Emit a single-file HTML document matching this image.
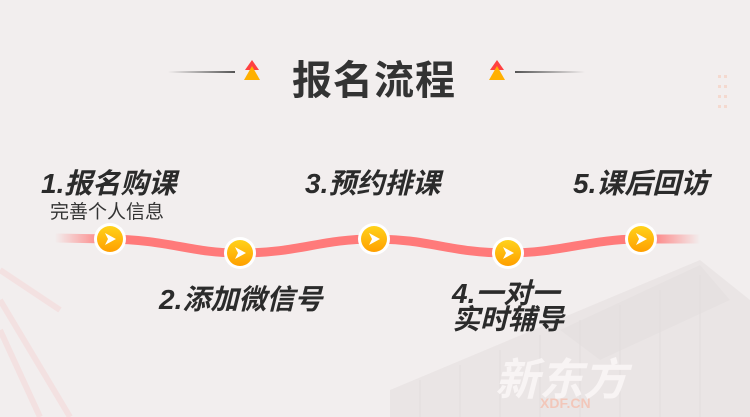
<!DOCTYPE html>
<html><head><meta charset="utf-8"><style>
body{margin:0;width:750px;height:417px;overflow:hidden;background:#f2eeee;position:relative;font-family:"Liberation Sans","Noto Sans CJK SC",sans-serif}
.t{position:absolute;font-weight:bold;font-style:italic;color:#2b2b2b;white-space:nowrap;letter-spacing:0px}
</style></head><body>
<svg width="750" height="417" style="position:absolute;left:0;top:0">
<defs>
<linearGradient id="lg" x1="55" x2="700" gradientUnits="userSpaceOnUse">
<stop offset="0" stop-color="#ff7a7a" stop-opacity="0"/>
<stop offset="0.08" stop-color="#ff7a7a"/>
<stop offset="0.92" stop-color="#ff7a7a"/>
<stop offset="1" stop-color="#ff7a7a" stop-opacity="0"/>
</linearGradient>
<linearGradient id="cg" x1="0" y1="0" x2="0" y2="1">
<stop offset="0" stop-color="#ffd21a"/><stop offset="1" stop-color="#ff9f00"/>
</linearGradient>
<linearGradient id="l1" x1="0" x2="1"><stop offset="0" stop-color="#555" stop-opacity="0"/><stop offset="1" stop-color="#555"/></linearGradient>
<linearGradient id="l2" x1="0" x2="1"><stop offset="0" stop-color="#555"/><stop offset="1" stop-color="#555" stop-opacity="0"/></linearGradient>
</defs>
<g opacity="0.45">
<polygon points="390,417 390,390 700,260 750,300 750,417" fill="#e2dcdc"/>
<polygon points="560,330 700,265 730,300 600,360" fill="#d9d3d3"/>
<g stroke="#cfc9c9" stroke-width="1">
<line x1="420" y1="380" x2="420" y2="417"/><line x1="460" y1="365" x2="460" y2="417"/><line x1="500" y1="350" x2="500" y2="417"/><line x1="540" y1="335" x2="540" y2="417"/><line x1="580" y1="320" x2="580" y2="417"/><line x1="620" y1="305" x2="620" y2="417"/><line x1="660" y1="290" x2="660" y2="417"/><line x1="700" y1="275" x2="700" y2="417"/>
</g>
</g>
<g stroke="#f5d9d9" stroke-width="6" fill="none" opacity="0.6">
<line x1="0" y1="270" x2="60" y2="310"/><line x1="0" y1="330" x2="40" y2="417"/><line x1="0" y1="300" x2="70" y2="417"/>
</g>
<text x="495" y="395" font-size="44" font-weight="bold" font-style="italic" fill="#fbf7f7" opacity="0.85" font-family="Liberation Sans,Noto Sans CJK SC,sans-serif">新东方</text>
<text x="540" y="408" font-size="14" font-weight="bold" fill="#f5c0b0" opacity="0.8" font-family="Liberation Sans,sans-serif">XDF.CN</text>
<rect x="168" y="71" width="67" height="2" fill="url(#l1)"/>
<rect x="515" y="71" width="70" height="2" fill="url(#l2)"/>
<g>
<path d="M252,60 L259,70 L245,70 Z" fill="#ff4040"/><path d="M252,66 L260,80 L244,80 Z" fill="#ffb000"/>
<path d="M497,60 L504,70 L490,70 Z" fill="#ff4040"/><path d="M497,66 L505,80 L489,80 Z" fill="#ffb000"/>
</g>
<g fill="#f5d5c8" opacity="0.8">
<rect x="718" y="75" width="3" height="3"/><rect x="724" y="75" width="3" height="3"/><rect x="718" y="85" width="3" height="3"/><rect x="724" y="85" width="3" height="3"/><rect x="718" y="95" width="3" height="3"/><rect x="724" y="95" width="3" height="3"/><rect x="718" y="105" width="3" height="3"/><rect x="724" y="105" width="3" height="3"/>
</g>
<path d="M55,238 L110,239 C170,240 190,253 240,253 C300,253 320,239 374,239 C430,239 450,253 508,253 C560,253 590,239 641,239 L700,239" stroke="url(#lg)" stroke-width="9" fill="none"/>
<g>
<g transform="translate(110,239)"><circle r="16" fill="#fff"/><circle r="13" fill="url(#cg)"/><path d="M-5,-6 L6,0 L-5,6 L-2,0 Z" fill="#fff"/></g>
<g transform="translate(240,253)"><circle r="16" fill="#fff"/><circle r="13" fill="url(#cg)"/><path d="M-5,-6 L6,0 L-5,6 L-2,0 Z" fill="#fff"/></g>
<g transform="translate(374,239)"><circle r="16" fill="#fff"/><circle r="13" fill="url(#cg)"/><path d="M-5,-6 L6,0 L-5,6 L-2,0 Z" fill="#fff"/></g>
<g transform="translate(508,253)"><circle r="16" fill="#fff"/><circle r="13" fill="url(#cg)"/><path d="M-5,-6 L6,0 L-5,6 L-2,0 Z" fill="#fff"/></g>
<g transform="translate(641,239)"><circle r="16" fill="#fff"/><circle r="13" fill="url(#cg)"/><path d="M-5,-6 L6,0 L-5,6 L-2,0 Z" fill="#fff"/></g>
</g>
</svg>
<div class="t" style="left:292px;top:48px;font-size:40px;font-style:normal;color:#333;letter-spacing:1px">报名流程</div>
<div class="t" style="left:41px;top:162px;font-size:28px">1.报名购课</div>
<div class="t" style="left:50px;top:197px;font-size:19px;font-weight:normal;font-style:normal;color:#333">完善个人信息</div>
<div class="t" style="left:305px;top:162px;font-size:28px">3.预约排课</div>
<div class="t" style="left:573px;top:162px;font-size:28px">5.课后回访</div>
<div class="t" style="left:159px;top:278px;font-size:28px">2.添加微信号</div>
<div class="t" style="left:452px;top:281px;font-size:28px;line-height:26px">4.一对一<br>实时辅导</div>
</body></html>
